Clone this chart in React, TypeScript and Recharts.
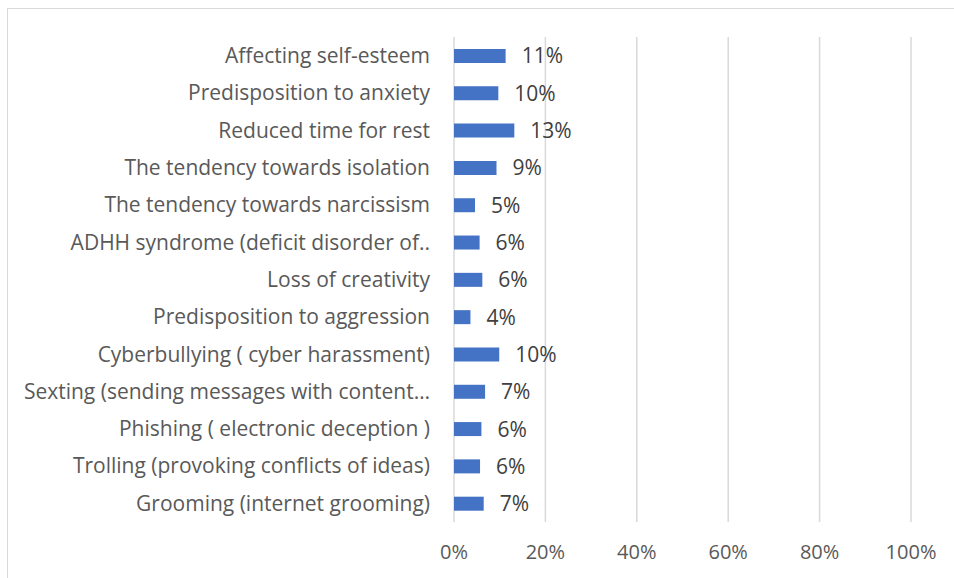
import { Bar, BarChart, CartesianGrid, LabelList, XAxis, YAxis } from 'recharts'

const categories = [
  'Affecting self-esteem',
  'Predisposition to anxiety',
  'Reduced time for rest',
  'The tendency towards isolation',
  'The tendency towards narcissism',
  'ADHH syndrome (deficit disorder of..',
  'Loss of creativity',
  'Predisposition to aggression',
  'Cyberbullying ( cyber harassment)',
  'Sexting (sending messages with content…',
  'Phishing ( electronic deception )',
  'Trolling (provoking conflicts of ideas)',
  'Grooming (internet grooming)',
]

// shares (labels show rounded %)
const values = [11.3, 9.7, 13.2, 9.3, 4.6, 5.6, 6.2, 3.6, 9.9, 6.8, 6.0, 5.7, 6.5]
const labels = ['11%', '10%', '13%', '9%', '5%', '6%', '6%', '4%', '10%', '7%', '6%', '6%', '7%']

const xTicks = [0, 20, 40, 60, 80, 100]

const data = categories.map((name, i) => ({ name, value: values[i], label: labels[i] }))

const font = '"Open Sans", "Noto Sans", sans-serif'

export default function App() {
  return (
    <div
      style={{
        position: 'absolute',
        left: 7,
        top: 8,
        width: 960,
        height: 580,
        border: '1px solid #d9d9d9',
        background: '#fff',
        fontFamily: font,
      }}
    >
      <BarChart
        layout="vertical"
        width={946}
        height={570}
        data={data}
        margin={{ top: 28, right: 43, bottom: 0, left: 0 }}
      >
        <CartesianGrid horizontal={false} stroke="#d9d9d9" strokeWidth={1.5} />
        <XAxis
          type="number"
          domain={[0, 100]}
          ticks={xTicks}
          tickFormatter={(v) => `${v}%`}
          axisLine={false}
          tickLine={false}
          tickMargin={17}
          height={57}
          tick={{ fill: '#595959', fontSize: 20, fontFamily: font }}
        />
        <YAxis
          type="category"
          dataKey="name"
          width={446}
          axisLine={false}
          tickLine={false}
          tickMargin={18}
          interval={0}
          tick={{ fill: '#595959', fontSize: 21, fontFamily: font }}
        />
        <Bar dataKey="value" fill="#4472c4" barSize={14} isAnimationActive={false}>
          <LabelList
            dataKey="label"
            position="right"
            offset={16}
            fill="#404040"
            fontSize={21}
            fontFamily={font}
          />
        </Bar>
      </BarChart>
    </div>
  )
}
